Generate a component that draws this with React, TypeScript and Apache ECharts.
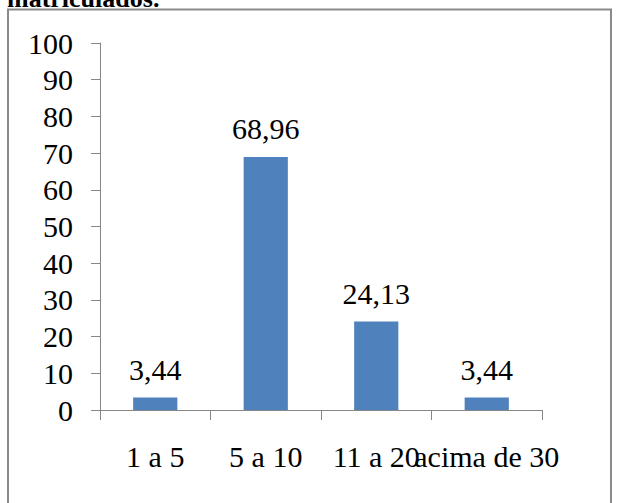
import React, { useEffect, useRef } from "react";
import * as echarts from "echarts";

const categories = ["1 a 5", "5 a 10", "11 a 20", "acima de 30"];
const values = [3.44, 68.96, 24.13, 3.44];
const yMin = 0;
const yMax = 100;
const yInterval = 10;
const clippedTitle = "matriculados.";

export default function App() {
  const ref = useRef<HTMLDivElement>(null);
  useEffect(() => {
    if (!ref.current) return;
    const chart = echarts.init(ref.current, null, { renderer: "svg" });
    chart.setOption({
      animation: false,
      backgroundColor: "#ffffff",
      graphic: [
        {
          type: "text",
          x: 7,
          y: 11,
          style: {
            text: clippedTitle,
            fontFamily: "Liberation Serif",
            fontWeight: "bold",
            fontSize: 26,
            fill: "#000",
            verticalAlign: "bottom",
          },
        },
        {
          type: "rect",
          shape: { x: 8, y: 9.5, width: 603, height: 520 },
          style: { fill: "none", stroke: "#8a8a8a", lineWidth: 2 },
        },
      ],
      grid: { left: 100, right: 77, top: 43, bottom: 93, containLabel: false },
      xAxis: {
        type: "category",
        data: categories,
        axisLine: { lineStyle: { color: "#868686", width: 1 } },
        axisTick: { show: true, length: 10, alignWithLabel: false, lineStyle: { color: "#868686" } },
        axisLabel: {
          textStyle: { fontFamily: "Times New Roman" },
          fontFamily: "Times New Roman",
          color: "#000",
          fontSize: 30,
          margin: 31,
          interval: 0,
        },
      },
      yAxis: {
        type: "value",
        min: yMin,
        max: yMax,
        interval: yInterval,
        axisLine: { show: true, lineStyle: { color: "#868686", width: 1 } },
        axisTick: { show: true, length: 9, lineStyle: { color: "#868686" } },
        splitLine: { show: false },
        axisLabel: {
          fontFamily: "Liberation Serif",
          color: "#000",
          fontSize: 30,
          margin: 27,
        },
      },
      series: [
        {
          type: "bar",
          data: values,
          barWidth: "40%",
          itemStyle: { color: "#4F81BD" },
          label: {
            show: true,
            position: "top",
            distance: 13,
            fontFamily: "serif",
            color: "#000",
            fontSize: 30,
            formatter: (p: any) => String(p.value).replace(".", ","),
          },
        },
      ],
    });
    return () => chart.dispose();
  }, []);
  return (
    <div
      ref={ref}
      style={{ position: "fixed", left: 0, top: 0, width: 619, height: 503 }}
    />
  );
}
